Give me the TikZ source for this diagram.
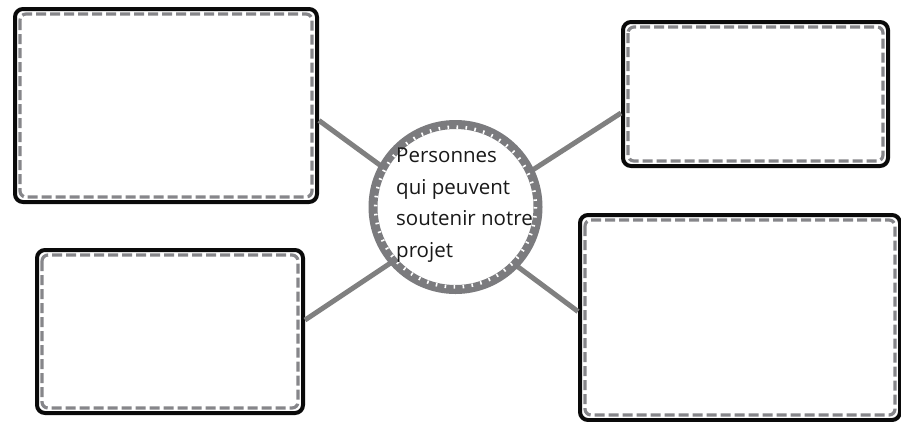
\documentclass[tikz,border=0pt]{standalone}
\usepackage{fontspec}
\newfontfamily\handfont{Open Sans}
\definecolor{boxline}{HTML}{0A0A0A}
\definecolor{dashgray}{HTML}{86868A}
\definecolor{ringgray}{HTML}{7B7B7E}
\definecolor{linkgray}{HTML}{808080}
\tikzset{
  card/.style={draw=boxline, line width=4pt, rounded corners=8pt, fill=white,
    inner sep=0pt, minimum width=#1},
  cardh/.style={minimum height=#1},
  innerdash/.style={draw=dashgray, line width=3.2pt, rounded corners=6pt,
    dash pattern=on 10pt off 4pt},
  link/.style={draw=linkgray, line width=5pt},
}
\newcommand{\dashinside}[1]{%
  \draw[innerdash] ([shift={(7pt,-7pt)}]#1.north west) rectangle ([shift={(-7pt,7pt)}]#1.south east);}
\begin{document}
\begin{tikzpicture}[x=1pt,y=-1pt]
\useasboundingbox (0,0) rectangle (901,421);
\coordinate (hub) at (455,220);
% boxes
\node[card=302pt, cardh=193pt] (b1) at (166,105.5) {};
\node[card=265pt, cardh=144pt] (b2) at (755.5,94) {};
\node[card=266pt, cardh=163pt] (b3) at (170,331.5) {};
\node[card=320pt, cardh=205pt] (b4) at (740,317.5) {};
% connectors
\draw[link] ([yshift=-15pt]b1.east) -- (hub);
\draw[link] ([yshift=-19pt]b2.west) -- (hub);
\draw[link] ([yshift=11.5pt]b3.east) -- (hub);
\draw[link] ([yshift=6pt]b4.west) -- (hub);
\foreach \b in {b1,b2,b3,b4} {\dashinside{\b}}
% centre circle
\node[circle, fill=white, draw=ringgray, line width=9pt, minimum size=165pt, inner sep=0pt] (c) at (455.5,207) {};
\draw[white, line width=3.5pt, dash pattern=on 1.6pt off 7.4pt] (c.center) circle[radius=80];
\node[anchor=north west, inner sep=0pt, align=left, font=\handfont\fontsize{20.5}{31.5}\selectfont, text=black!90]
  (t) at (396,148) {Personnes\\qui peuvent\\soutenir notre\\projet};
\end{tikzpicture}
\end{document}
